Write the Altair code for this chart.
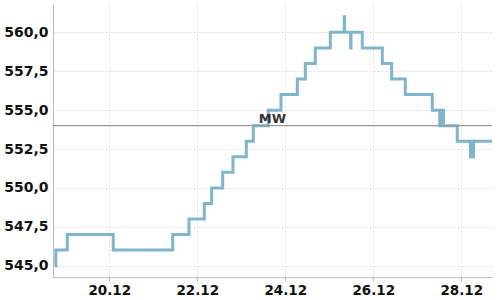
import altair as alt
import pandas as pd

# step-series (UTC timestamps) and values
times = [
    "2023-12-18T18:20:00Z", "2023-12-18T18:50:00Z", "2023-12-19T01:05:00Z",
    "2023-12-20T02:10:00Z", "2023-12-21T10:35:00Z", "2023-12-21T19:28:00Z",
    "2023-12-22T03:49:00Z", "2023-12-22T07:51:00Z", "2023-12-22T13:51:00Z",
    "2023-12-22T19:28:00Z", "2023-12-23T02:44:00Z", "2023-12-23T06:33:00Z",
    "2023-12-23T14:44:00Z", "2023-12-23T21:39:00Z", "2023-12-24T06:33:00Z",
    "2023-12-24T10:55:00Z", "2023-12-24T16:22:00Z", "2023-12-25T00:33:00Z",
    "2023-12-25T08:11:00Z", "2023-12-25T08:20:00Z", "2023-12-25T11:40:00Z",
    "2023-12-25T11:50:00Z", "2023-12-25T18:00:00Z", "2023-12-26T04:55:00Z",
    "2023-12-26T10:02:00Z", "2023-12-26T17:27:00Z", "2023-12-27T08:11:00Z",
    "2023-12-27T12:16:00Z", "2023-12-27T12:46:00Z", "2023-12-27T13:18:00Z",
    "2023-12-27T13:48:00Z", "2023-12-27T14:17:00Z", "2023-12-27T21:49:00Z",
    "2023-12-28T05:01:00Z", "2023-12-28T05:37:00Z", "2023-12-28T06:10:00Z",
    "2023-12-28T06:42:00Z", "2023-12-28T17:30:00Z",
]
values = [
    545, 546, 547,
    546, 547, 548,
    549, 550, 551,
    552, 553, 554,
    555, 556, 557,
    558, 559, 560,
    561, 560, 559,
    560, 559, 558,
    557, 556, 555,
    554, 555, 554,
    555, 554, 553,
    552, 553, 552,
    553, 553,
]
mean_value = 554.0
mean_label = ["MW"]
y_ticks = [545, 547.5, 550, 552.5, 555, 557.5, 560]
x_tick_days = [20, 22, 24, 26, 28]

df = pd.DataFrame({"t": times, "v": values})
mean_df = pd.DataFrame({"mw": [mean_value], "label": mean_label})

x_scale = alt.Scale(
    type="utc",
    domain=[
        alt.DateTime(year=2023, month=12, date=18, hours=17, minutes=18, utc=True),
        alt.DateTime(year=2023, month=12, date=28, hours=16, minutes=45, utc=True),
    ],
)
y_scale = alt.Scale(domain=[544.27, 561.76], nice=False, zero=False)

x_axis = alt.Axis(
    values=[alt.DateTime(year=2023, month=12, date=d, utc=True) for d in x_tick_days],
    labelExpr="utcFormat(datum.value, '%d.%m')",
    title=None,
    tickSize=4,
    labelPadding=2,
    labelFontSize=13.5,
)
y_axis = alt.Axis(
    values=y_ticks,
    labelExpr="replace(format(datum.value, '.1f'), '.', ',')",
    title=None,
    tickSize=0,
    labelPadding=5,
    labelFontSize=14,
)

line = alt.Chart(df).mark_line(
    interpolate="step-after", color="#7fb5cc", strokeWidth=3, clip=True
).encode(
    x=alt.X("t:T", scale=x_scale, axis=x_axis),
    y=alt.Y("v:Q", scale=y_scale, axis=y_axis),
)

rule = alt.Chart(mean_df).mark_rule(color="#999999", strokeWidth=1.2).encode(
    y=alt.Y("mw:Q", scale=y_scale),
)

text = alt.Chart(mean_df).mark_text(
    font="DejaVu Sans", fontSize=13, fontWeight="bold", color="#333333",
    baseline="alphabetic", align="center", dy=-2.5,
).encode(
    x=alt.value(219.5),
    y=alt.Y("mw:Q", scale=y_scale),
    text="label:N",
)

chart = alt.layer(line, rule, text).properties(
    width=439, height=272,
    padding={"left": 53, "top": 5, "right": 8, "bottom": 23},
    autosize=alt.AutoSizeParams(type="none"),
).configure_view(stroke=None).configure_axis(
    grid=True,
    gridColor="#dddddd",
    gridDash=[2, 2],
    domainColor="#bbbbbb",
    tickColor="#bbbbbb",
    labelFont="DejaVu Sans",
    labelFontWeight="bold",
    labelColor="#111111",
)

chart.save("out.html", embed_options={"renderer": "svg", "actions": False})
